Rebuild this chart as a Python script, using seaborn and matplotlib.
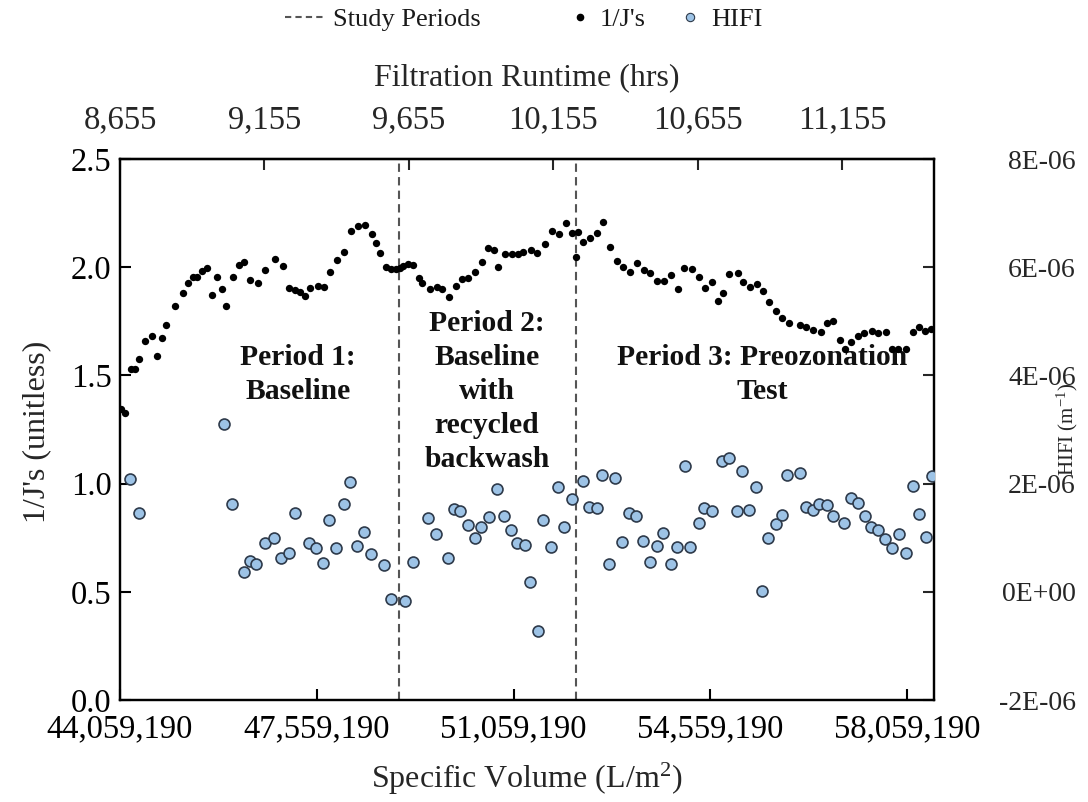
import numpy as np
import pandas as pd
import matplotlib
matplotlib.use("Agg")
import matplotlib.pyplot as plt
from matplotlib.lines import Line2D
from matplotlib.ticker import FixedLocator, FuncFormatter
import seaborn as sns

# ---------------------------------------------------------------
# Data
# ---------------------------------------------------------------
# 1/J's series: specific volume (millions of L/m2) and value (unitless)
jinv_volume_m = [
    44.082, 44.153, 44.260, 44.331, 44.402, 44.509, 44.628, 44.717, 44.806, 44.877,
    45.032, 45.174, 45.269, 45.352, 45.434, 45.518, 45.607, 45.696, 45.790, 45.874,
    45.945, 46.064, 46.171, 46.265, 46.377, 46.509, 46.644, 46.811, 46.953, 47.071,
    47.177, 47.266, 47.355, 47.439, 47.581, 47.683, 47.800, 47.928, 48.049, 48.165,
    48.289, 48.412, 48.542, 48.613, 48.688, 48.787, 48.880, 48.965, 49.035, 49.099,
    49.188, 49.277, 49.378, 49.437, 49.574, 49.693, 49.782, 49.912, 50.031, 50.138,
    50.255, 50.374, 50.504, 50.611, 50.712, 50.778, 50.908, 51.027, 51.145, 51.234,
    51.371, 51.483, 51.619, 51.739, 51.874, 51.993, 52.095, 52.171, 52.212, 52.301,
    52.420, 52.539, 52.646, 52.776, 52.895, 53.012, 53.132, 53.261, 53.380, 53.487,
    53.617, 53.736, 53.855, 53.991, 54.097, 54.240, 54.359, 54.466, 54.585, 54.702,
    54.791, 54.898, 55.047, 55.147, 55.266, 55.385, 55.503, 55.609, 55.723, 55.841,
    55.960, 56.156, 56.262, 56.392, 56.524, 56.630, 56.748, 56.867, 56.956, 57.063,
    57.193, 57.299, 57.431, 57.548, 57.685, 57.787, 57.904, 58.041, 58.160, 58.272,
    58.379, 58.481,
]
jinv_values = [
    1.343, 1.325, 1.530, 1.530, 1.577, 1.660, 1.683, 1.591, 1.673, 1.731,
    1.819, 1.879, 1.928, 1.956, 1.956, 1.984, 1.995, 1.873, 1.956, 1.898,
    1.821, 1.956, 2.010, 2.024, 1.939, 1.928, 1.987, 2.037, 2.006, 1.903,
    1.895, 1.887, 1.867, 1.903, 1.915, 1.910, 1.979, 2.033, 2.070, 2.169,
    2.189, 2.195, 2.152, 2.110, 2.064, 1.999, 1.993, 1.993, 1.995, 2.006,
    2.013, 2.010, 1.951, 1.928, 1.898, 1.910, 1.898, 1.861, 1.915, 1.944,
    1.951, 1.976, 2.025, 2.087, 2.080, 2.002, 2.061, 2.061, 2.061, 2.072,
    2.080, 2.067, 2.106, 2.169, 2.152, 2.203, 2.157, 2.049, 2.164, 2.118,
    2.134, 2.157, 2.210, 2.092, 2.029, 2.000, 1.979, 2.018, 1.987, 1.975,
    1.938, 1.938, 1.963, 1.898, 1.998, 1.992, 1.956, 1.903, 1.933, 1.844,
    1.879, 1.969, 1.975, 1.930, 1.910, 1.922, 1.891, 1.838, 1.798, 1.767,
    1.744, 1.733, 1.725, 1.710, 1.702, 1.744, 1.751, 1.664, 1.623, 1.656,
    1.682, 1.695, 1.705, 1.695, 1.702, 1.621, 1.621, 1.621, 1.702, 1.725,
    1.705, 1.713,
]

# HIFI series: specific volume (millions of L/m2) and value (x1e-6 1/m)
hifi_volume_m = [
    44.242, 44.402, 45.918, 46.060, 46.265, 46.380, 46.487, 46.647, 46.807, 46.923,
    47.060, 47.172, 47.425, 47.546, 47.676, 47.782, 47.910, 48.044, 48.154, 48.270,
    48.403, 48.524, 48.764, 48.885, 49.133, 49.268, 49.547, 49.686, 49.888, 49.992,
    50.116, 50.258, 50.371, 50.476, 50.618, 50.774, 50.894, 51.009, 51.130, 51.255,
    51.361, 51.489, 51.589, 51.726, 51.845, 51.952, 52.094, 52.290, 52.402, 52.539,
    52.639, 52.752, 52.865, 52.984, 53.114, 53.238, 53.368, 53.487, 53.606, 53.724,
    53.861, 53.976, 54.101, 54.199, 54.359, 54.453, 54.585, 54.763, 54.898, 55.040,
    55.119, 55.248, 55.368, 55.474, 55.581, 55.723, 55.841, 55.919, 56.156, 56.257,
    56.381, 56.493, 56.630, 56.737, 56.938, 57.058, 57.192, 57.312, 57.418, 57.548,
    57.667, 57.797, 57.917, 58.036, 58.160, 58.272, 58.392, 58.498,
]
hifi_values_e6 = [
    2.079, 1.452, 3.100, 1.614, 0.375, 0.572, 0.522, 0.899, 0.996, 0.618,
    0.714, 1.452, 0.904, 0.812, 0.526, 1.328, 0.812, 1.618, 2.035, 0.854,
    1.113, 0.692, 0.502, -0.135, -0.161, 0.544, 1.360, 1.066, 0.618, 1.537,
    1.494, 1.231, 0.996, 1.205, 1.380, 1.897, 1.397, 1.135, 0.899, 0.858,
    0.172, -0.720, 1.328, 0.836, 1.937, 1.194, 1.710, 2.048, 1.568, 1.544,
    2.153, 0.511, 2.109, 0.928, 1.452, 1.402, 0.946, 0.548, 0.854, 1.094,
    0.517, 0.836, 2.325, 0.836, 1.279, 1.544, 1.494, 2.417, 2.467, 1.500,
    2.232, 1.513, 1.943, 0.024, 1.002, 1.255, 1.421, 2.153, 2.201, 1.563,
    1.513, 1.624, 1.611, 1.402, 1.279, 1.729, 1.637, 1.397, 1.194, 1.144,
    0.978, 0.817, 1.070, 0.714, 1.961, 1.439, 1.020, 2.146,
]

# Boundaries between study periods (L/m2)
period_bounds = [49_022_000, 52_162_000]
period_labels = ["Period 1:\nBaseline",
                 "Period 2:\nBaseline\nwith\nrecycled\nbackwash",
                 "Period 3: Preozonation\nTest"]

# Axis ticks
vol_ticks = [44_059_190, 47_559_190, 51_059_190, 54_559_190, 58_059_190]
runtime_ticks = [8655, 9155, 9655, 10155, 10655, 11155]
jinv_ticks = [0.0, 0.5, 1.0, 1.5, 2.0, 2.5]
hifi_ticks = [-2e-6, 0.0, 2e-6, 4e-6, 6e-6, 8e-6]

# Filtration runtime conversion: runtime at the left edge and L/m2 filtered per hour
runtime_start_hrs = 8655
liters_per_hour = 5137.0

jinv_df = pd.DataFrame({"volume": np.array(jinv_volume_m) * 1e6, "jinv": jinv_values})
hifi_df = pd.DataFrame({"volume": np.array(hifi_volume_m) * 1e6,
                        "hifi": np.array(hifi_values_e6) * 1e-6})

# ---------------------------------------------------------------
# Style
# ---------------------------------------------------------------
sns.set_theme(style="ticks")
plt.rcParams["font.family"] = ["Liberation Serif", "DejaVu Serif"]
plt.rcParams["mathtext.fontset"] = "custom"
plt.rcParams["mathtext.rm"] = "Liberation Serif"
plt.rcParams["mathtext.it"] = "Liberation Serif:italic"
plt.rcParams["text.color"] = "#1a1a1a"

TICK_FS = 23.5
RTICK_FS = 20
RLABEL_FS = 15
LABEL_FS = 23
NOTE_FS = 21.3
LEGEND_FS = 19
HIFI_FILL = "#9dc3e6"
HIFI_EDGE = "#2e3a4a"
DASH_COLOR = "#555555"

fig = plt.figure(figsize=(10.88, 8.02), dpi=100)
ax = fig.add_axes([0.11029, 0.12718, 0.74816, 0.67456])

x_min, x_max = 44_059_190, 58_539_000

# Period boundaries
for xb in period_bounds:
    ax.axvline(xb, color=DASH_COLOR, lw=1.5, ls=(0, (4, 2.5)), zorder=1)

# 1/J's points
sns.scatterplot(data=jinv_df, x="volume", y="jinv", ax=ax, color="black",
                s=28, linewidth=0, zorder=3, legend=False)

ax.set_xlim(x_min, x_max)
ax.set_ylim(0, 2.5)
ax.xaxis.set_major_locator(FixedLocator(vol_ticks))
ax.xaxis.set_major_formatter(FuncFormatter(lambda v, p: f"{v:,.0f}"))
ax.yaxis.set_major_locator(FixedLocator(jinv_ticks))
ax.yaxis.set_major_formatter(FuncFormatter(lambda v, p: f"{v:.1f}"))
ax.tick_params(axis="both", direction="in", length=8, width=1.5,
               labelsize=TICK_FS, colors="black")
ax.tick_params(axis="x", pad=10)
ax.tick_params(axis="y", pad=6)
ax.set_xlabel("Specific Volume (L/m$^2$)", fontsize=LABEL_FS)
ax.set_ylabel("1/J's (unitless)", fontsize=LABEL_FS)
ax.xaxis.set_label_coords(0.5, -0.113)
ax.yaxis.set_label_coords(-0.085, 0.495)

# Period annotations
note_pos = [(47_225_000, 1.505), (50_588_000, 1.425), (55_480_000, 1.505)]
for (nx, ny), txt in zip(note_pos, period_labels):
    ax.text(nx, ny, txt, ha="center", va="center", fontsize=NOTE_FS,
            fontweight="bold", linespacing=1.34, color="#111111", zorder=2)

# HIFI on the secondary y axis
ax2 = ax.twinx()
sns.scatterplot(data=hifi_df, x="volume", y="hifi", ax=ax2, color=HIFI_FILL,
                edgecolor=HIFI_EDGE, s=62, linewidth=1.2, zorder=3, legend=False)
ax2.set_xlim(x_min, x_max)
ax2.set_ylim(-2e-6, 8e-6)
ax2.yaxis.set_major_locator(FixedLocator(hifi_ticks))
ax2.yaxis.set_major_formatter(FuncFormatter(lambda v, p: f"{v:.0E}"))
ax2.tick_params(axis="y", direction="in", length=8, width=1.5,
                labelsize=RTICK_FS, pad=102)
for lab in ax2.get_yticklabels():
    lab.set_horizontalalignment("right")
ax2.set_ylabel("HIFI (m$^{-1}$)", fontsize=RLABEL_FS)
ax2.yaxis.set_label_coords(1.148, 0.5)
ax2.set_xlabel("")

# Filtration runtime along the top
top = ax.secondary_xaxis(
    "top",
    functions=(lambda v: runtime_start_hrs + (v - x_min) / liters_per_hour,
               lambda h: x_min + (h - runtime_start_hrs) * liters_per_hour))
top.xaxis.set_major_locator(FixedLocator(runtime_ticks))
top.xaxis.set_major_formatter(FuncFormatter(lambda v, p: f"{v:,.0f}"))
top.tick_params(axis="x", direction="in", length=8, width=1.5,
                labelsize=TICK_FS, pad=17)
top.set_xlabel("Filtration Runtime (hrs)", fontsize=LABEL_FS, labelpad=14)

for a in (ax, ax2):
    for sp in a.spines.values():
        sp.set_linewidth(1.6)
        sp.set_color("black")
top.spines["top"].set_linewidth(1.6)

# Legend entries, laid out along the top edge
legend_y = 0.976
entries = [
    (Line2D([], [], color=DASH_COLOR, lw=1.5, ls=(0, (3, 2))), "Study Periods",
     285 / 1088, 1.52, 0.3),
    (Line2D([], [], ls="none", marker="o", color="black", markersize=4.5), "1/J's",
     567 / 1088, 1.0, 0.25),
    (Line2D([], [], ls="none", marker="o", markerfacecolor=HIFI_FILL,
            markeredgecolor=HIFI_EDGE, markeredgewidth=0.8, markersize=6), "HIFI",
     677 / 1088, 1.0, 0.3),
]
for handle, label, lx, hlen, hpad in entries:
    fig.legend([handle], [label], loc="center left", bbox_to_anchor=(lx, legend_y),
               frameon=False, fontsize=LEGEND_FS, handlelength=hlen,
               handletextpad=hpad, borderpad=0, borderaxespad=0)

fig.savefig("out.png", dpi=100)
